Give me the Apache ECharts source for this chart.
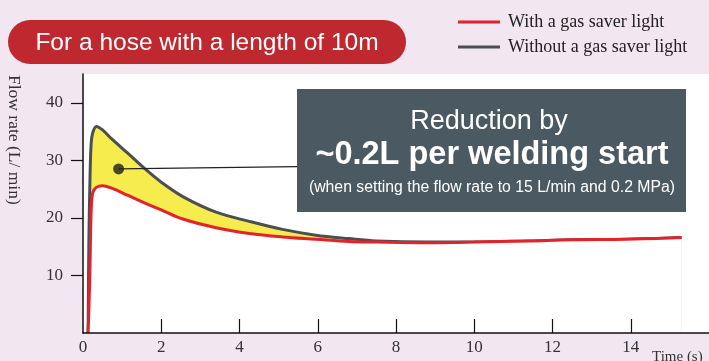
<!DOCTYPE html>
<html>
<head>
<meta charset="utf-8">
<script src="https://cdn.jsdelivr.net/npm/echarts@6/dist/echarts.min.js"></script>
<style>
  html, body { margin: 0; padding: 0; background: #f2e6f1; }
  #chart { width: 709px; height: 361px; }
</style>
</head>
<body>
<div id="chart"></div>
<script>
// time (s) and flow rate (L/min)
var timeS = [0.13, 0.15, 0.18, 0.21, 0.25, 0.34, 0.5, 0.72, 1.15, 1.57, 2.0, 2.55, 3.4, 4.25, 5.1, 5.95, 6.8, 7.5, 8.8, 10, 11.4, 12.5, 13.9, 15.3]
var withoutSaver = [0, 15.8, 27.3, 33.1, 34.8, 35.9, 35.3, 33.8, 31.2, 28.6, 26.2, 23.7, 21.0, 19.4, 18.0, 17.0, 16.4, 16.0, 15.8, 15.8, 16.0, 16.2, 16.3, 16.6]
var withSaver = [0, 4, 12, 21.5, 24.4, 25.3, 25.6, 25.2, 23.9, 22.6, 21.4, 19.8, 18.3, 17.3, 16.7, 16.3, 15.9, 15.8, 15.7, 15.8, 16.0, 16.2, 16.3, 16.6]

var xTickValues = [2, 4, 6, 8, 10, 12, 14]
var xLabelValues = [0, 2, 4, 6, 8, 10, 12, 14]
var yTickValues = [10, 20, 30, 40]

var markerPoint = [0.91, 28.5]
var markerLineEnd = [5.47, 28.9]

var serif = 'Liberation Serif'

function pairs (xs, ys) {
  var out = []
  for (var i = 0; i < xs.length; i++) out.push([xs[i], ys[i]])
  return out
}

var myChart = echarts.init(document.getElementById('chart'))

var option = {
  backgroundColor: '#f2e6f1',
  animation: false,
  grid: {
    left: 83, right: -3, top: 74, bottom: 28,
    show: true, backgroundColor: '#ffffff', borderWidth: 0
  },
  legend: {
    data: [
      {name: 'With a gas saver light'},
      {name: 'Without a gas saver light'}
    ],
    orient: 'vertical',
    left: 453,
    top: 8,
    icon: 'rect',
    itemWidth: 42,
    itemHeight: 3,
    itemGap: 7,
    textStyle: {fontFamily: serif, fontSize: 18, color: '#222', padding: [0, 0, 0, 3]}
  },
  xAxis: {
    type: 'value',
    min: 0,
    max: 16,
    interval: 2,
    z: 5,
    splitLine: {show: false},
    axisLine: {lineStyle: {color: '#111', width: 1.5}},
    axisTick: {inside: true, length: 14, customValues: xTickValues, lineStyle: {color: '#111', width: 1.2}},
    axisLabel: {customValues: xLabelValues, fontFamily: serif, fontSize: 17, color: '#333', margin: 6}
  },
  yAxis: {
    type: 'value',
    min: 0,
    max: 45,
    interval: 5,
    z: 5,
    splitLine: {show: false},
    axisLine: {show: true, lineStyle: {color: '#111', width: 1.5}},
    axisTick: {show: true, length: 12, customValues: yTickValues, lineStyle: {color: '#111', width: 1.2}},
    axisLabel: {customValues: yTickValues, fontFamily: serif, fontSize: 17, color: '#333', margin: 20}
  },
  graphic: [
    {
      type: 'rect',
      shape: {x: 8, y: 20, width: 398, height: 44, r: 22},
      style: {fill: '#c0282f'}
    },
    {
      type: 'text',
      x: 207, y: 43,
      style: {text: 'For a hose with a length of 10m', fill: '#fff', font: '24.5px "Liberation Sans"', align: 'center', verticalAlign: 'middle'}
    },
    {
      type: 'rect',
      z: 10,
      shape: {x: 297, y: 89, width: 389, height: 123},
      style: {fill: '#4b5a62'}
    },
    {
      type: 'text',
      z: 11,
      x: 489, y: 122,
      style: {text: 'Reduction by', fill: '#fff', font: '27px "Liberation Sans"', align: 'center', verticalAlign: 'middle'}
    },
    {
      type: 'text',
      z: 11,
      x: 492, y: 155,
      style: {text: '~0.2L per welding start', fill: '#fff', font: 'bold 32.5px "Liberation Sans"', align: 'center', verticalAlign: 'middle'}
    },
    {
      type: 'text',
      z: 11,
      x: 492, y: 188,
      style: {text: '(when setting the flow rate to 15 L/min and 0.2 MPa)', fill: '#fff', font: '15.8px "Liberation Sans"', align: 'center', verticalAlign: 'middle'}
    },
    {
      type: 'text',
      x: 14, y: 75,
      rotation: -Math.PI / 2,
      style: {text: 'Flow rate (L/ min)', fill: '#333', font: '17.5px "Liberation Serif"', align: 'left', verticalAlign: 'middle'}
    },
    {
      type: 'text',
      x: 652, y: 357,
      style: {text: 'Time (s)', fill: '#333', font: '15px "Liberation Serif"', align: 'left', verticalAlign: 'middle'}
    }
  ],
  series: [
    {
      name: 'Without a gas saver light',
      type: 'line',
      z: 2,
      symbol: 'none',
      smooth: 0.35,
      lineStyle: {color: '#4b4f54', width: 3},
      itemStyle: {color: '#4b4f54'},
      areaStyle: {color: '#f6ec4e', opacity: 1},
      data: pairs(timeS, withoutSaver)
    },
    {
      name: 'With a gas saver light',
      type: 'line',
      z: 3,
      symbol: 'none',
      smooth: 0.35,
      lineStyle: {color: '#e4222b', width: 3},
      itemStyle: {color: '#e4222b'},
      areaStyle: {color: '#ffffff', opacity: 1},
      data: pairs(timeS, withSaver)
    },
    {
      name: 'marker',
      type: 'scatter',
      z: 6,
      symbolSize: 11,
      itemStyle: {color: '#1e1e1e'},
      data: [markerPoint],
      markLine: {
        silent: true,
        symbol: 'none',
        label: {show: false},
        lineStyle: {color: '#222', width: 1.2, type: 'solid'},
        data: [[{coord: markerPoint}, {coord: markerLineEnd}]]
      }
    }
  ]
}

myChart.setOption(option)
</script>
</body>
</html>
